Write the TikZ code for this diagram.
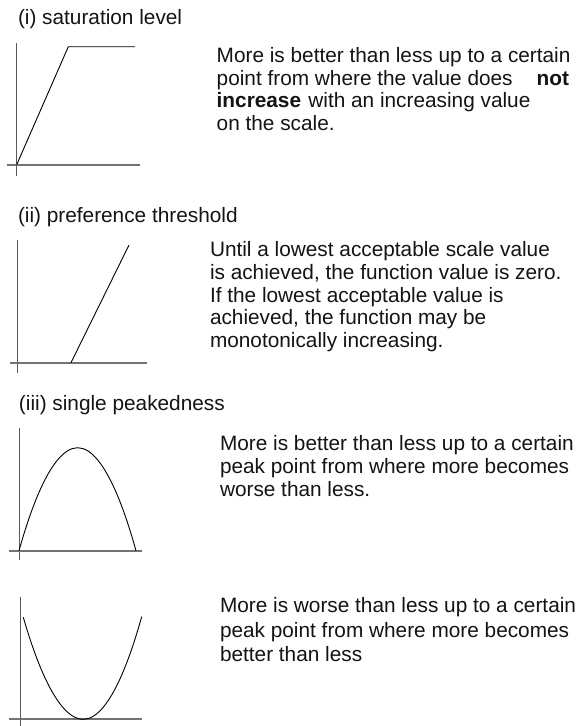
\documentclass[tikz,border=0pt]{standalone}
\usepackage{fontspec}
\setmainfont{Liberation Sans}
\begin{document}
\begin{tikzpicture}[x=1pt,y=-1pt,
  txt/.style={anchor=base west,inner sep=0pt,outer sep=0pt,text=black!92,font=\fontsize{20.8}{22.7}\selectfont},
  vaxis/.style={draw=black!65,line width=1pt},
  haxis/.style={draw=black!55,line width=1.9pt},
  curve/.style={draw=black,line width=0.9pt}]
\useasboundingbox[fill=white] (0,0) rectangle (581,726);

% ---------- (i) saturation level ----------
\node[txt] (t1) at (18,24) {(i) saturation level};
\draw[vaxis] (16.7,42.7) -- (16.7,175.7);
\draw[haxis] (6.7,164.7) -- (140,164.7);
\draw[curve] (16.7,164.7) -- (68.3,46.7) -- (135,46.7);
\node[txt] (p1a) at (216.7,62.3) {More is better than less up to a certain};
\node[txt] (p1b) at (216.7,85) {point from where the value does};
\node[txt] (p1c) at (536.7,85) {\bfseries not};
\node[txt] (p1d) at (216.7,107.7) {\bfseries increase\hspace{1.5pt} \mdseries with an increasing value};
\node[txt] (p1e) at (216.7,130.4) {on the scale.};

% ---------- (ii) preference threshold ----------
\node[txt] (t2) at (18,222.7) {(ii) preference threshold};
\draw[vaxis] (17.3,240) -- (17.3,373);
\draw[haxis] (10,362.7) -- (146.7,362.7);
\draw[curve] (71,362.7) -- (129,245);
\node[txt] (p2a) at (210,256.4) {Until a lowest acceptable scale value};
\node[txt] (p2b) at (210,279.2) {is achieved, the function value is zero.};
\node[txt] (p2c) at (210,302) {If the lowest acceptable value is};
\node[txt] (p2d) at (210,324.7) {achieved, the function may be};
\node[txt] (p2e) at (210,347.4) {monotonically increasing.};

% ---------- (iii) single peakedness ----------
\node[txt] (t3) at (19,410) {(iii) single peakedness};
\draw[vaxis] (19,428) -- (19,560);
\draw[haxis] (9,550.7) -- (141.7,550.7);
\draw[curve] (19,550.7) parabola bend (77.7,447.7) (136,550.7);
\node[txt] (p3a) at (220,450.2) {More is better than less up to a certain};
\node[txt] (p3b) at (220,473.5) {peak point from where more becomes};
\node[txt] (p3c) at (220,496.7) {worse than less.};

% ---------- (iv) ----------
\draw[vaxis] (20,596.7) -- (20,726);
\draw[haxis] (9,719.3) -- (141.7,719.3);
\draw[curve] (23.3,617.3) parabola bend (83.3,719.3) (141.7,616.7);
\node[txt] (p4a) at (220,612.9) {More is worse than less up to a certain};
\node[txt] (p4b) at (220,637) {peak point from where more becomes};
\node[txt] (p4c) at (220,661) {better than less};
\end{tikzpicture}
\end{document}
